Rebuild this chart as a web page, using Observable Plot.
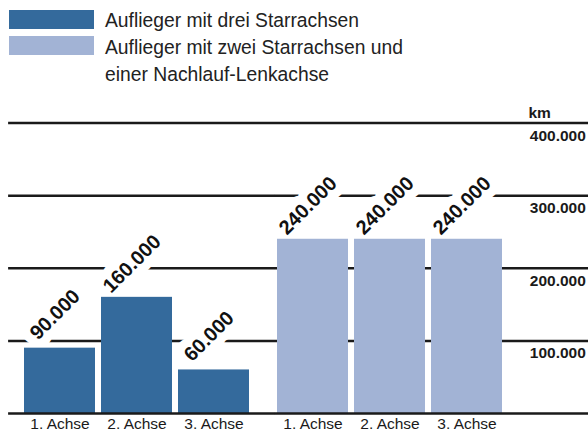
<!DOCTYPE html>
<html>
<head>
<meta charset="utf-8">
<script src="https://cdn.jsdelivr.net/npm/d3@7"></script>
<script src="https://cdn.jsdelivr.net/npm/@observablehq/plot@0.6"></script>
<style>
  body { margin: 0; background: #fff; font-family: "Liberation Sans", Arial, Helvetica, sans-serif; }
  #legend { position: relative; height: 92px; width: 588px; }
  .sw { position: absolute; left: 9px; width: 85px; height: 19px; }
  .lt { position: absolute; left: 105px; width: 330px; font-size: 19.3px; line-height: 27.3px; color: #222; }
  #chart svg { display: block; }
</style>
</head>
<body>
<div id="legend"></div>
<div id="chart"></div>
<script>
// ---- data ----
const groups = ["Auflieger mit drei Starrachsen", "Auflieger mit zwei Starrachsen und einer Nachlauf-Lenkachse"];
const axles = ["1. Achse", "2. Achse", "3. Achse"];
const valuesThreeFixed = [90000, 160000, 60000];
const valuesTwoFixedOneSteer = [240000, 240000, 240000];
const yTicks = [100000, 200000, 300000, 400000];
const unit = "km";

const colors = ["#346a9c", "#a2b3d5"];

const data = [
  ...axles.map((a, i) => ({group: groups[0], axle: a, value: valuesThreeFixed[i]})),
  ...axles.map((a, i) => ({group: groups[1], axle: a, value: valuesTwoFixedOneSteer[i]}))
];

const fmt = d3.formatLocale({decimal: ",", thousands: ".", grouping: [3], currency: ["", "€"]}).format(",d");

// ---- legend ----
const legend = document.getElementById("legend");
const swTops = [10, 36];
const txtTops = [7.2, 33.9];
groups.forEach((g, i) => {
  const s = document.createElement("div");
  s.className = "sw";
  s.style.top = swTops[i] + "px";
  s.style.background = colors[i];
  legend.appendChild(s);
  const t = document.createElement("div");
  t.className = "lt";
  t.style.top = txtTops[i] + "px";
  t.textContent = g;
  legend.appendChild(t);
});

// ---- chart ----
const font = '"Liberation Sans", Arial, Helvetica, sans-serif';
const lineColor = "#1a1a1a";
const inFirst = () => groups[0];
const inLast = () => groups[1];

const chart = Plot.plot({
  width: 588,
  height: 340,
  marginLeft: 8,
  marginRight: 0,
  marginTop: 30.6,
  marginBottom: 19,
  style: {fontFamily: font, fontSize: "15.5px", color: lineColor, background: "white", overflow: "visible"},
  fx: {domain: groups, paddingInner: 0.087, paddingOuter: 0.1897, align: 0.134, axis: null, label: null},
  x: {domain: axles, paddingInner: 0.08, paddingOuter: 0.04, label: null, axis: "bottom", tickSize: 0, tickPadding: 4.5},
  y: {domain: [0, 400000], axis: null},
  color: {domain: groups, range: colors},
  marks: [
    // gridlines, extended across the margins and the gap between the two groups
    Plot.ruleY(yTicks, {fx: inFirst, stroke: lineColor, strokeWidth: 2.5, insetLeft: -12.9, insetRight: -22.1}),
    Plot.ruleY(yTicks, {fx: inLast, stroke: lineColor, strokeWidth: 2.5, insetRight: -83.1}),
    Plot.text(data, {
      fx: "group", x: "axle", y: "value", text: d => fmt(d.value),
      rotate: -45, fontSize: 20, fontWeight: "bold", fill: "#111",
      stroke: "white", strokeWidth: 18, strokeLinejoin: "round",
      dx: -5, dy: -33.5
    }),
    Plot.barY(data, {fx: "group", x: "axle", y: "value", fill: "group"}),
    Plot.ruleY([0], {fx: inFirst, stroke: lineColor, strokeWidth: 2.7, insetLeft: -12.9, insetRight: -22.1}),
    Plot.ruleY([0], {fx: inLast, stroke: lineColor, strokeWidth: 2.7, insetRight: -83.1}),
    Plot.text(yTicks, {
      fx: inLast, y: d => d, text: d => fmt(d), frameAnchor: "right",
      textAnchor: "end", dx: 80.3, dy: 12.5, fontWeight: "bold", fontSize: 15.5, fill: lineColor
    }),
    Plot.text([unit], {
      fx: inLast, y: () => yTicks[yTicks.length - 1], text: d => d, frameAnchor: "right",
      textAnchor: "end", dx: 80.3 - 35, dy: -10.5, fontWeight: "bold", fontSize: 15.5, fill: lineColor
    })
  ]
});
document.getElementById("chart").appendChild(chart);
</script>
</body>
</html>
